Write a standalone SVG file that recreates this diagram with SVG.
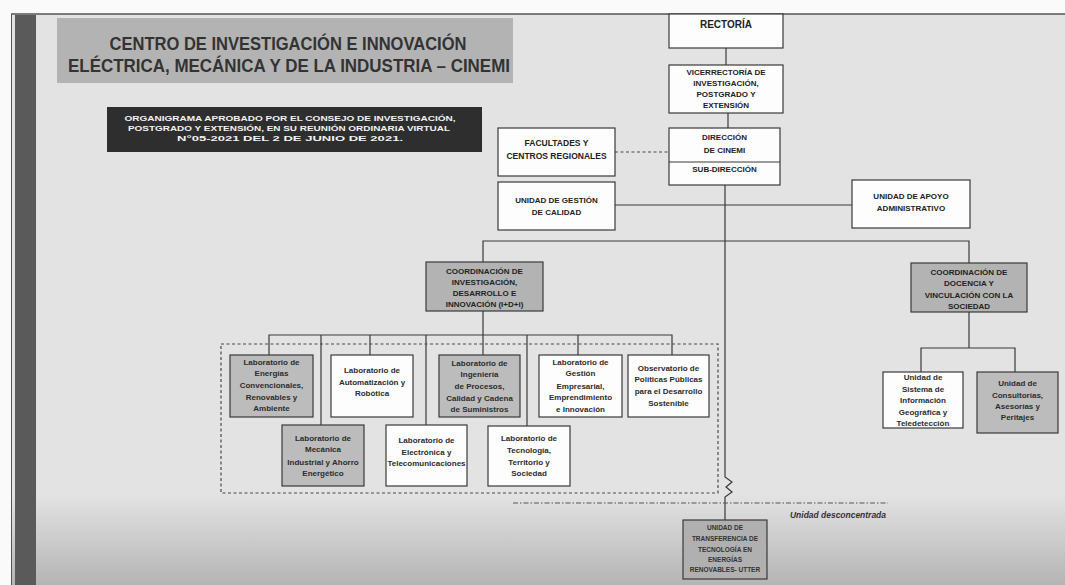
<svg xmlns="http://www.w3.org/2000/svg" width="1065" height="585" viewBox="0 0 1065 585">
<defs>
<linearGradient id="bg" x1="0" y1="0" x2="0" y2="1">
<stop offset="0" stop-color="#e3e3e3"/>
<stop offset="1" stop-color="#b4b4b4"/>
</linearGradient>
<style>
.box{fill:#fdfdfd;stroke:#3a3a3a;stroke-width:1.2}
.gray{fill:#bcbcbc}
.dark{fill:#b3b3b3}
.t{font-family:"Liberation Sans",Arial,sans-serif;font-weight:bold;font-size:8px;fill:#222;text-anchor:middle}
.lab{fill:#2c2c2c}
.ln{stroke:#3a3a3a;stroke-width:1.2;fill:none}
.dash{stroke:#4a4a4a;stroke-width:1.2;fill:none;stroke-dasharray:3 2.5}
.dd{stroke:#555;stroke-width:1;fill:none;stroke-dasharray:5 2 1.5 2}
</style>
</defs>
<rect x="0" y="0" width="1065" height="585" fill="#e3e3e3"/>
<rect x="0" y="495" width="1065" height="90" fill="url(#bg)"/>
<rect x="0" y="0" width="1065" height="14" fill="#fafafa"/>
<rect x="0" y="0" width="11" height="585" fill="#fafafa"/>
<line x1="11" y1="14" x2="1065" y2="14" stroke="#555" stroke-width="1.3"/>
<line x1="11.5" y1="14" x2="11.5" y2="585" stroke="#555" stroke-width="1"/>
<rect x="15" y="15" width="21" height="570" fill="#5a5a5a"/>

<g id="title">
<rect x="57" y="18" width="456" height="65" fill="#b3b3b3"/>
<text class="t" x="288" y="50" font-size="19" fill="#333" textLength="357" lengthAdjust="spacingAndGlyphs" style="font-size:19px;fill:#333">CENTRO DE INVESTIGACIÓN E INNOVACIÓN</text>
<text class="t" x="289" y="72" textLength="442" lengthAdjust="spacingAndGlyphs" style="font-size:19px;fill:#333">ELÉCTRICA, MECÁNICA Y DE LA INDUSTRIA – CINEMI</text>
</g>

<g id="banner">
<rect x="107" y="107" width="375" height="45" fill="#2e2e2e"/>
<text class="t" x="290" y="121" textLength="331" lengthAdjust="spacingAndGlyphs" style="fill:#f2f2f2">ORGANIGRAMA APROBADO POR EL CONSEJO DE INVESTIGACIÓN,</text>
<text class="t" x="289" y="131" textLength="322" lengthAdjust="spacingAndGlyphs" style="fill:#f2f2f2">POSTGRADO Y EXTENSIÓN, EN SU REUNIÓN ORDINARIA VIRTUAL</text>
<text class="t" x="290" y="141" textLength="226" lengthAdjust="spacingAndGlyphs" style="fill:#f2f2f2">N°05-2021 DEL 2 DE JUNIO DE 2021.</text>
</g>

<g id="connectors">
<line class="ln" x1="726" y1="48" x2="726" y2="65"/>
<line class="ln" x1="728" y1="113" x2="728" y2="128"/>
<line class="dash" x1="615" y1="152" x2="669" y2="152"/>
<line class="ln" x1="615" y1="205" x2="852" y2="205"/>
<polyline class="ln" points="725,185 725,477 732,482 726,487 732,492 725,497 725,520"/>
<polyline class="ln" points="483,262 483,241 969,241 969,263"/>
<line class="ln" x1="483" y1="311" x2="483" y2="355"/>
<polyline class="ln" points="269,355 269,335 672,335 672,355"/>
<line class="ln" x1="321" y1="335" x2="321" y2="425"/>
<line class="ln" x1="370" y1="335" x2="370" y2="355"/>
<line class="ln" x1="426" y1="335" x2="426" y2="425"/>
<line class="ln" x1="527" y1="335" x2="527" y2="426"/>
<line class="ln" x1="578" y1="335" x2="578" y2="355"/>
<line class="ln" x1="969" y1="312" x2="969" y2="348"/>
<polyline class="ln" points="921,372 921,348 1015,348 1015,372"/>
<rect class="dash" x="221" y="344" width="497" height="149"/>
<line class="dd" x1="513" y1="503" x2="888" y2="503"/>
</g>

<g id="rectoria">
<rect class="box" x="669" y="14" width="114" height="34"/>
<text class="t" x="726" y="28" style="font-size:10px">RECTORÍA</text>
</g>

<g id="vicerrectoria">
<rect class="box" x="669" y="65" width="114" height="48"/>
<text class="t" x="726" y="75">VICERRECTORÍA DE</text>
<text class="t" x="726" y="86">INVESTIGACIÓN,</text>
<text class="t" x="726" y="97">POSTGRADO Y</text>
<text class="t" x="726" y="108">EXTENSIÓN</text>
</g>

<g id="direccion">
<rect class="box" x="669" y="128" width="111" height="57"/>
<line class="ln" x1="669" y1="162" x2="780" y2="162"/>
<text class="t" x="724.5" y="140">DIRECCIÓN</text>
<text class="t" x="724.5" y="153">DE CINEMI</text>
<text class="t" x="724.5" y="172">SUB-DIRECCIÓN</text>
</g>

<g id="facultades">
<rect class="box" x="498" y="128" width="117" height="48"/>
<text class="t" x="556.5" y="146" style="font-size:8.5px">FACULTADES Y</text>
<text class="t" x="556.5" y="159" style="font-size:8.5px">CENTROS REGIONALES</text>
</g>

<g id="gestion-calidad">
<rect class="box" x="498" y="182" width="117" height="48"/>
<text class="t" x="556.5" y="203">UNIDAD DE GESTIÓN</text>
<text class="t" x="556.5" y="215">DE CALIDAD</text>
</g>

<g id="apoyo">
<rect class="box" x="852" y="180" width="118" height="48"/>
<text class="t" x="911" y="199">UNIDAD DE APOYO</text>
<text class="t" x="911" y="211">ADMINISTRATIVO</text>
</g>

<g id="coord-idi">
<rect class="box dark" x="426" y="262" width="117" height="49"/>
<text class="t" x="484.5" y="274">COORDINACIÓN DE</text>
<text class="t" x="484.5" y="285">INVESTIGACIÓN,</text>
<text class="t" x="484.5" y="296">DESARROLLO E</text>
<text class="t" x="484.5" y="307">INNOVACIÓN (I+D+i)</text>
</g>

<g id="coord-docencia">
<rect class="box dark" x="911" y="263" width="116" height="49"/>
<text class="t" x="969" y="275">COORDINACIÓN DE</text>
<text class="t" x="969" y="286">DOCENCIA Y</text>
<text class="t" x="969" y="298">VINCULACIÓN CON LA</text>
<text class="t" x="969" y="309">SOCIEDAD</text>
</g>

<g id="unidad-sistema">
<rect class="box" x="883" y="372" width="80" height="56"/>
<text class="t lab" x="923" y="380">Unidad de</text>
<text class="t lab" x="923" y="391.5">Sistema de</text>
<text class="t lab" x="923" y="403">Información</text>
<text class="t lab" x="923" y="414.5">Geográfica y</text>
<text class="t lab" x="923" y="426">Teledetección</text>
</g>

<g id="unidad-consultorias">
<rect class="box gray" x="977" y="372" width="81" height="61"/>
<text class="t lab" x="1017.5" y="386">Unidad de</text>
<text class="t lab" x="1017.5" y="398">Consultorías,</text>
<text class="t lab" x="1017.5" y="409">Asesorías y</text>
<text class="t lab" x="1017.5" y="420">Peritajes</text>
</g>

<g id="lab-energias">
<rect class="box gray" x="230" y="355" width="83" height="62"/>
<text class="t lab" x="271.5" y="365">Laboratorio de</text>
<text class="t lab" x="271.5" y="376">Energías</text>
<text class="t lab" x="271.5" y="388">Convencionales,</text>
<text class="t lab" x="271.5" y="400">Renovables y</text>
<text class="t lab" x="271.5" y="411">Ambiente</text>
</g>

<g id="lab-automatizacion">
<rect class="box" x="331" y="355" width="82" height="62"/>
<text class="t lab" x="372" y="373">Laboratorio de</text>
<text class="t lab" x="372" y="385">Automatización y</text>
<text class="t lab" x="372" y="396">Robótica</text>
</g>

<g id="lab-ingenieria">
<rect class="box gray" x="439" y="355" width="81" height="62"/>
<text class="t lab" x="479.5" y="366">Laboratorio de</text>
<text class="t lab" x="479.5" y="377">Ingeniería</text>
<text class="t lab" x="479.5" y="389">de Procesos,</text>
<text class="t lab" x="479.5" y="401">Calidad y Cadena</text>
<text class="t lab" x="479.5" y="412">de Suministros</text>
</g>

<g id="lab-gestion">
<rect class="box" x="539" y="355" width="83" height="62"/>
<text class="t lab" x="580.5" y="365">Laboratorio de</text>
<text class="t lab" x="580.5" y="376">Gestión</text>
<text class="t lab" x="580.5" y="389">Empresarial,</text>
<text class="t lab" x="580.5" y="400">Emprendimiento</text>
<text class="t lab" x="580.5" y="412">e Innovación</text>
</g>

<g id="observatorio">
<rect class="box" x="628" y="355" width="81" height="62"/>
<text class="t lab" x="668.5" y="371">Observatorio de</text>
<text class="t lab" x="668.5" y="382">Políticas Públicas</text>
<text class="t lab" x="668.5" y="394">para el Desarrollo</text>
<text class="t lab" x="668.5" y="406">Sostenible</text>
</g>

<g id="lab-mecanica">
<rect class="box gray" x="282" y="425" width="82" height="61"/>
<text class="t lab" x="323" y="441">Laboratorio de</text>
<text class="t lab" x="323" y="452">Mecánica</text>
<text class="t lab" x="323" y="465">Industrial y Ahorro</text>
<text class="t lab" x="323" y="476">Energético</text>
</g>

<g id="lab-electronica">
<rect class="box" x="386" y="425" width="81" height="61"/>
<text class="t lab" x="426.5" y="443">Laboratorio de</text>
<text class="t lab" x="426.5" y="455">Electrónica y</text>
<text class="t lab" x="426.5" y="466">Telecomunicaciones</text>
</g>

<g id="lab-tecnologia">
<rect class="box" x="488" y="426" width="82" height="60"/>
<text class="t lab" x="529" y="441">Laboratorio de</text>
<text class="t lab" x="529" y="453">Tecnología,</text>
<text class="t lab" x="529" y="465">Territorio y</text>
<text class="t lab" x="529" y="476">Sociedad</text>
</g>

<g id="desconcentrada">
<text class="t" x="790" y="518" textLength="96" lengthAdjust="spacingAndGlyphs" style="text-anchor:start;font-style:italic;font-size:8.5px;fill:#333">Unidad desconcentrada</text>
</g>

<g id="utter">
<rect class="box" x="683" y="520" width="84" height="59" style="fill:#b0b0b0"/>
<text class="t" x="725" y="530" style="font-size:6.5px;fill:#333">UNIDAD DE</text>
<text class="t" x="725" y="541" style="font-size:6.5px;fill:#333">TRANSFERENCIA DE</text>
<text class="t" x="725" y="552" style="font-size:6.5px;fill:#333">TECNOLOGÍA EN</text>
<text class="t" x="725" y="562" style="font-size:6.5px;fill:#333">ENERGÍAS</text>
<text class="t" x="725" y="572" style="font-size:6.5px;fill:#333">RENOVABLES- UTTER</text>
</g>
</svg>
